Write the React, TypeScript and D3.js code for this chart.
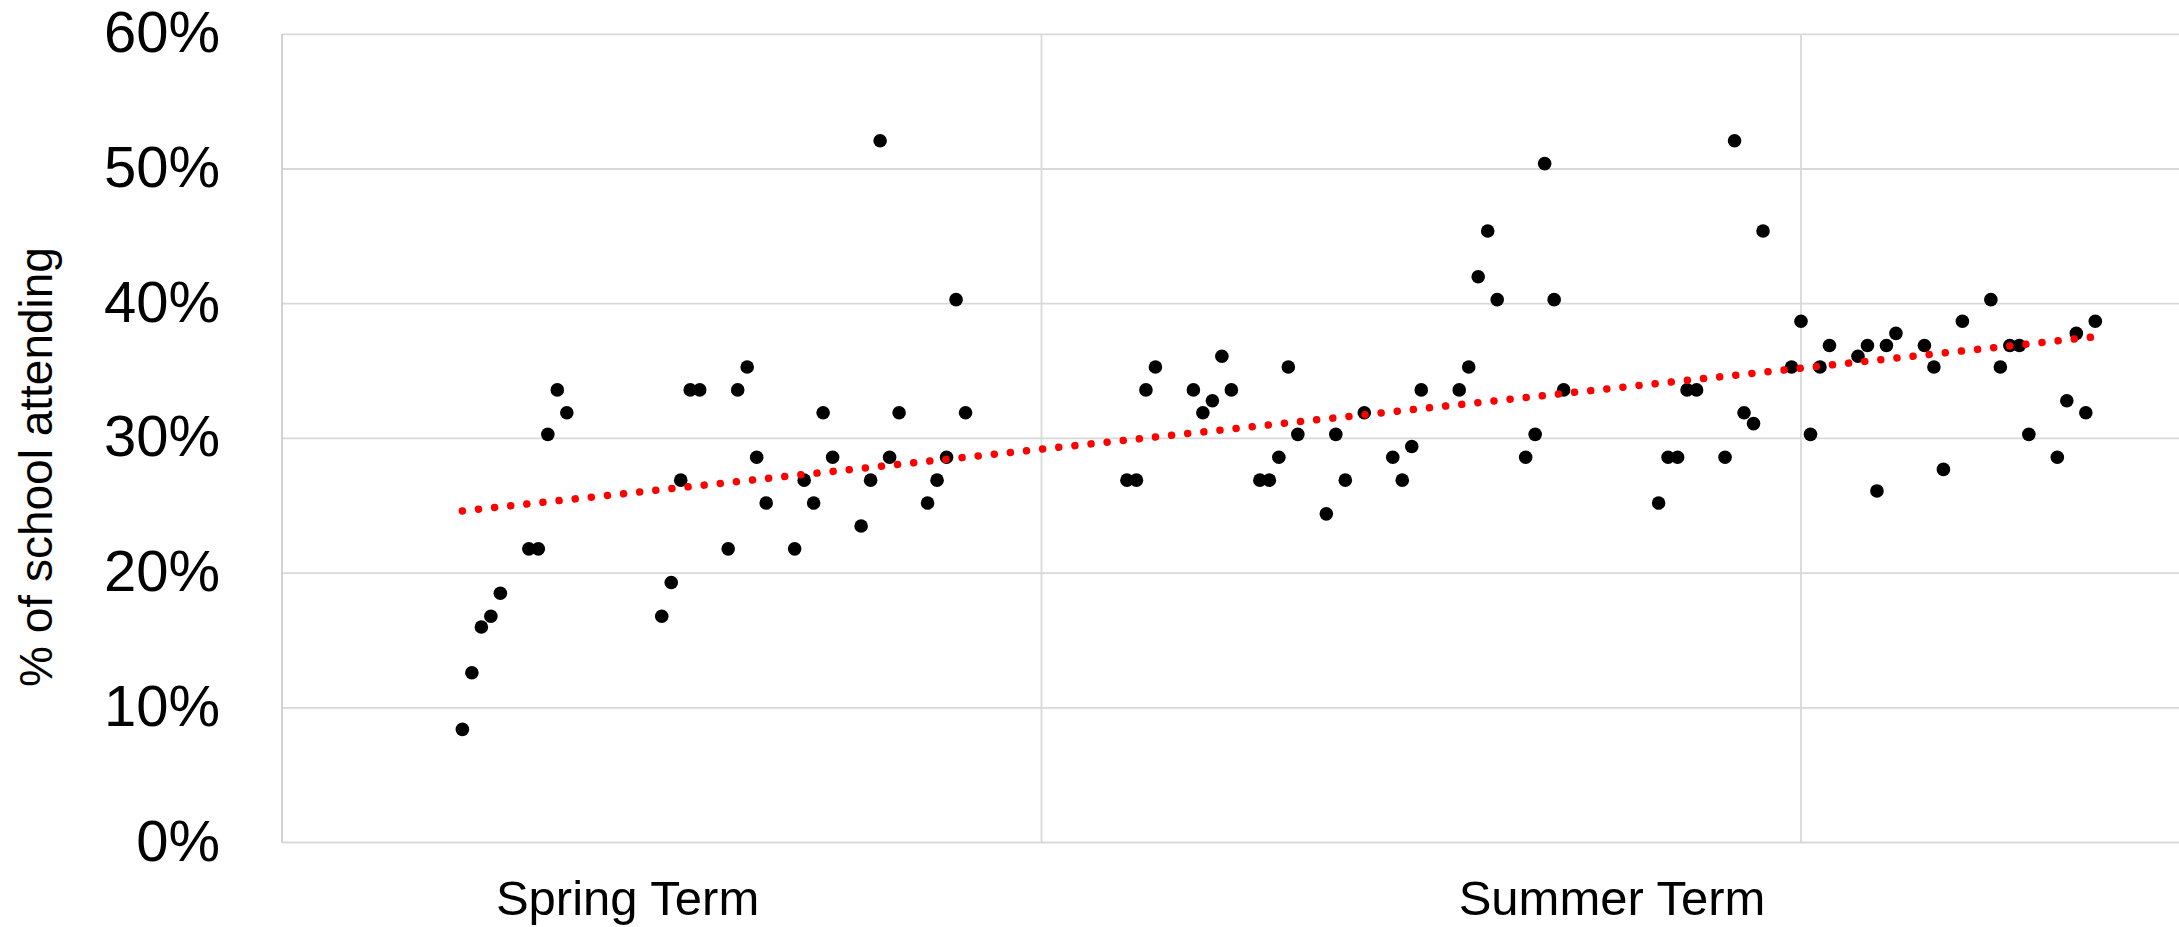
import React, { useEffect } from "react";
import * as d3 from "d3";

// School days (day index counted from the first day of Spring Term) and % attending
const springDays = [0, 1, 2, 3, 4, 7, 8, 9, 10, 11, 21, 22, 23, 24, 25, 28, 29, 30, 31, 32, 35, 36, 37, 38, 39, 42, 43, 44, 45, 46, 49, 50, 51, 52, 53];
const springValues = [8.4, 12.6, 16.0, 16.8, 18.5, 21.8, 21.8, 30.3, 33.6, 31.9, 16.8, 19.3, 26.9, 33.6, 33.6, 21.8, 33.6, 35.3, 28.6, 25.2, 21.8, 26.9, 25.2, 31.9, 28.6, 23.5, 26.9, 52.1, 28.6, 31.9, 25.2, 26.9, 28.6, 40.3, 31.9];

const summerDays = [70, 71, 72, 73, 77, 78, 79, 80, 81, 84, 85, 86, 87, 88, 91, 92, 93, 95, 98, 99, 100, 101, 105, 106, 107, 108, 109, 112, 113, 114, 115, 116, 126, 127, 128, 129, 130, 133, 134, 135, 136, 137, 140, 141, 142, 143, 144, 147, 148, 149, 150, 151, 154, 155, 156, 158, 161, 162, 163, 164, 165, 168, 169, 170, 171, 172];
const summerValues = [26.9, 26.9, 33.6, 35.3, 33.6, 31.9, 32.8, 36.1, 33.6, 26.9, 26.9, 28.6, 35.3, 30.3, 24.4, 30.3, 26.9, 31.9, 28.6, 26.9, 29.4, 33.6, 33.6, 35.3, 42.0, 45.4, 40.3, 28.6, 30.3, 50.4, 40.3, 33.6, 25.2, 28.6, 28.6, 33.6, 33.6, 28.6, 52.1, 31.9, 31.1, 45.4, 35.3, 38.7, 30.3, 35.3, 36.9, 36.1, 36.9, 26.1, 36.9, 37.8, 36.9, 35.3, 27.7, 38.7, 40.3, 35.3, 36.9, 36.9, 30.3, 28.6, 32.8, 37.8, 31.9, 38.7];

const yTicks = [0, 10, 20, 30, 40, 50, 60];
const xAxisStart = -19;
const xGridDays = [61, 141];
const termLabels = ["Spring Term", "Summer Term"];
const termLabelDays = [17.4, 121.1];
const yAxisTitle = "% of school attending";

const W = 2179;
const H = 927;
const FONT = "'Liberation Sans', Arial, sans-serif";

export default function App() {
  useEffect(() => {
    document.body.style.margin = "0";
  }, []);

  const x = d3.scaleLinear().domain([xAxisStart, 141]).range([282, 1801]);
  const y = d3.scaleLinear().domain([0, 60]).range([842.5, 34.3]);

  const days = [...springDays, ...summerDays];
  const vals = [...springValues, ...summerValues];
  const points = days.map((d, i) => ({ d, v: vals[i] }));

  // Linear least-squares trendline
  const mx = d3.mean(days) as number;
  const my = d3.mean(vals) as number;
  const sxy = d3.sum(points, (p) => (p.d - mx) * (p.v - my));
  const sxx = d3.sum(points, (p) => (p.d - mx) * (p.d - mx));
  const slope = sxy / sxx;
  const intercept = my - slope * mx;
  const [dMin, dMax] = d3.extent(days) as [number, number];
  const trend = [dMin, dMax].map((d) => ({ d, v: intercept + slope * d }));
  const trendPath = d3
    .line<{ d: number; v: number }>()
    .x((p) => x(p.d))
    .y((p) => y(p.v))(trend) as string;

  const x0 = x(xAxisStart);

  return (
    <div style={{ position: "absolute", left: 0, top: 0 }}>
      <svg width={W} height={H} style={{ display: "block", background: "#fff" }}>
        {/* horizontal gridlines */}
        {yTicks.map((t) => (
          <line key={"h" + t} x1={x0} x2={W} y1={y(t)} y2={y(t)} stroke="#d9d9d9" strokeWidth={1.8} />
        ))}
        {/* vertical gridlines */}
        {xGridDays.map((d) => (
          <line key={"v" + d} x1={x(d)} x2={x(d)} y1={y(60)} y2={y(0)} stroke="#d9d9d9" strokeWidth={1.8} />
        ))}
        {/* y axis line */}
        <line x1={x0} x2={x0} y1={y(60)} y2={y(0)} stroke="#c8c8c8" strokeWidth={1.6} />

        {/* y tick labels */}
        {yTicks.map((t) => (
          <text
            key={"yl" + t}
            x={220}
            y={y(t) + 18}
            textAnchor="end"
            fontFamily={FONT}
            fontSize={58}
            fill="#000"
          >
            {t + "%"}
          </text>
        ))}

        {/* y axis title */}
        <text
          transform={`translate(52,467) rotate(-90)`}
          textAnchor="middle"
          fontFamily={FONT}
          fontSize={46}
          fill="#000"
        >
          {yAxisTitle}
        </text>

        {/* term labels */}
        {termLabels.map((lab, i) => (
          <text
            key={lab}
            x={x(termLabelDays[i])}
            y={914.5}
            textAnchor="middle"
            fontFamily={FONT}
            fontSize={49}
            fill="#000"
          >
            {lab}
          </text>
        ))}

        {/* points */}
        {points.map((p, i) => (
          <circle key={"p" + i} cx={x(p.d)} cy={y(p.v)} r={6.8} fill="#000" />
        ))}

        {/* trendline */}
        <path
          d={trendPath}
          fill="none"
          stroke="#ff0000"
          strokeWidth={7.5}
          strokeLinecap="round"
          strokeDasharray="0.01 16.2"
        />
      </svg>
    </div>
  );
}
